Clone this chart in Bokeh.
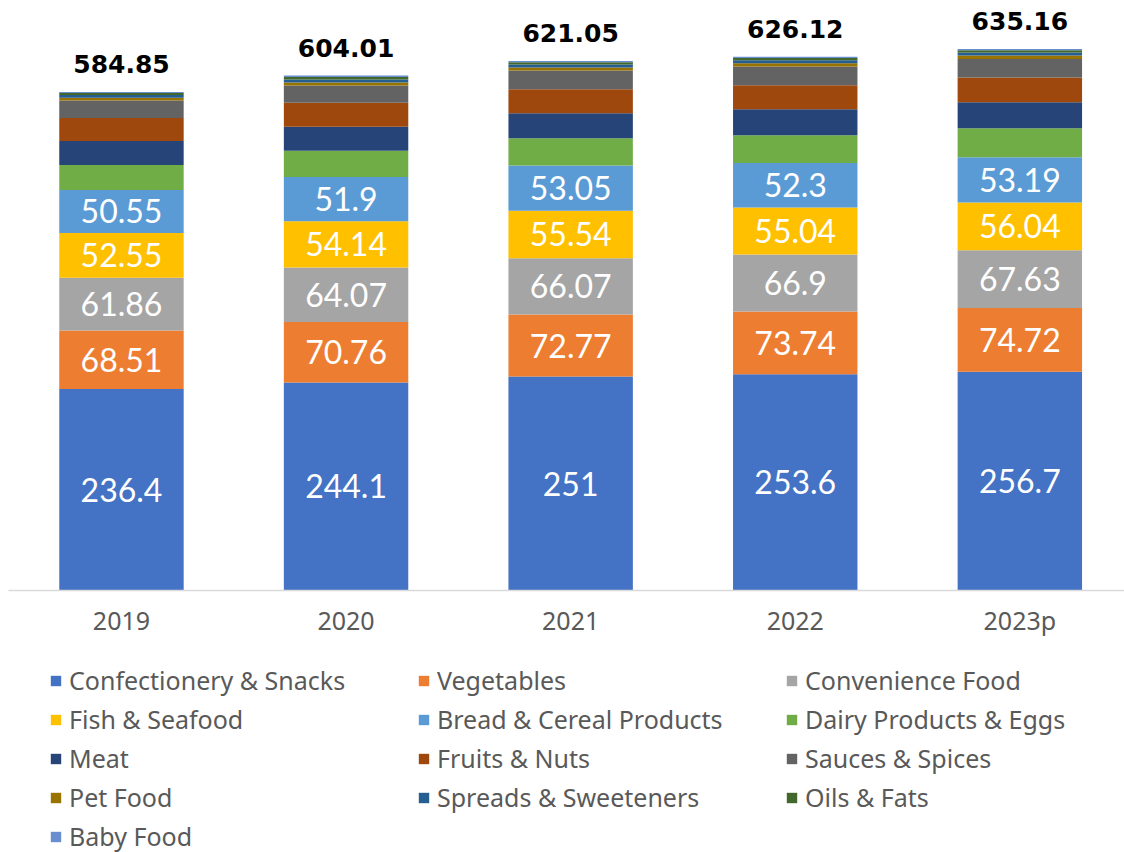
import numpy as np
from bokeh.plotting import figure
from bokeh.layouts import column
from bokeh.models import ColumnDataSource, Legend, LegendItem, Range1d, FixedTicker
from bokeh.embed import file_html
from bokeh.resources import INLINE
from bokeh.core.properties import value

years = ["2019", "2020", "2021", "2022", "2023p"]
totals = [584.85, 604.01, 621.05, 626.12, 635.16]

confectionery = [236.4, 244.1, 251.0, 253.6, 256.7]
vegetables = [68.51, 70.76, 72.77, 73.74, 74.72]
convenience = [61.86, 64.07, 66.07, 66.9, 67.63]
fish = [52.55, 54.14, 55.54, 55.04, 56.04]
bread = [50.55, 51.9, 53.05, 52.3, 53.19]
dairy = [29.3, 30.9, 32.0, 32.4, 33.9]
meat = [28.2, 28.2, 29.3, 30.5, 30.6]
fruits = [27.0, 28.2, 28.2, 28.2, 28.9]
sauces = [20.3, 20.0, 21.9, 21.9, 21.9]
pet = [3.2, 3.7, 3.8, 3.9, 3.9]
spreads = [3.5, 3.5, 3.5, 3.6, 3.6]
oils = [2.2, 2.8, 2.6, 2.7, 2.7]
baby = [1.28, 1.74, 1.32, 1.34, 1.38]

series_names = ["Confectionery & Snacks", "Vegetables", "Convenience Food",
                "Fish & Seafood", "Bread & Cereal Products", "Dairy Products & Eggs",
                "Meat", "Fruits & Nuts", "Sauces & Spices", "Pet Food",
                "Spreads & Sweeteners", "Oils & Fats", "Baby Food"]
series_values = [confectionery, vegetables, convenience, fish, bread, dairy,
                 meat, fruits, sauces, pet, spreads, oils, baby]
colors = ["#4472C4", "#ED7D31", "#A5A5A5", "#FFC000", "#5B9BD5", "#70AD47",
          "#264478", "#9E480E", "#636363", "#997300", "#255E91", "#43682B", "#698ED0"]

xs = list(range(len(years)))
keys = ["s%d" % i for i in range(len(series_names))]
data = {"x": xs}
for k, v in zip(keys, series_values):
    data[k] = v
source = ColumnDataSource(data)

p = figure(frame_width=1116, frame_height=582, output_backend="svg",
           toolbar_location=None, min_border=0, min_border_left=8,
           min_border_right=0, min_border_top=8, min_border_bottom=60,
           x_range=Range1d(-0.503, 4.466), y_range=Range1d(0, 682.7))
p.outline_line_color = None
p.grid.visible = False
p.yaxis.visible = False

renderers = p.vbar_stack(keys, x="x", width=0.554, color=colors,
                         line_color=None, source=source)

# inside labels for first five series
cum = np.zeros(len(years))
lab_x, lab_y, lab_t = [], [], []
for v in series_values[:5]:
    arr = np.array(v)
    mids = cum + arr / 2
    for i in range(len(years)):
        lab_x.append(xs[i])
        lab_y.append(mids[i])
        lab_t.append(("%g" % v[i]))
    cum = cum + arr
p.text(x=lab_x, y=lab_y, text=lab_t, text_color="white",
       text_font=value("Lato"), text_font_size="32px",
       text_align="center", text_baseline="middle")

p.text(x=xs, y=totals, text=["%.2f" % t for t in totals], text_color="black",
       text_font=value("DejaVu Sans"), text_font_style="bold", text_font_size="25px",
       text_align="center", text_baseline="alphabetic", y_offset=-28)

ax = p.xaxis[0]
ax.ticker = FixedTicker(ticks=xs)
ax.major_label_overrides = {i: y for i, y in zip(xs, years)}
ax.major_tick_line_color = None
ax.minor_tick_line_color = None
ax.axis_line_color = "#D9D9D9"
ax.axis_line_width = 1.5
ax.major_label_text_font = "Noto Sans"
ax.major_label_text_font_size = "25px"
ax.major_label_text_color = "#595959"
ax.major_label_standoff = 6

# legend figure below the chart (zero-height stand-in bars carry the swatches)
lg = figure(width=1124, height=202, output_backend="svg", toolbar_location=None,
            min_border=0, x_range=Range1d(0, 1), y_range=Range1d(0, 1))
lg.outline_line_color = None
lg.grid.visible = False
lg.axis.visible = False
dummy = [lg.vbar(x=[0.5], top=[0], bottom=[0], width=0, color=c, line_color=None)
         for c in colors]
items = [LegendItem(label=n, renderers=[r]) for n, r in zip(series_names, dummy)]
legend = Legend(items=items, orientation="horizontal", ncols=3,
                label_text_font="Noto Sans", label_text_font_size="25px",
                label_text_color="#595959", glyph_width=13, glyph_height=13,
                label_standoff=7, label_width=343, label_height=27, spacing=5,
                padding=0, margin=0, border_line_color=None,
                background_fill_alpha=0, location=(41, -1))
lg.add_layout(legend, "center")

open("out.html", "w").write(file_html(column(p, lg, spacing=0), INLINE))
